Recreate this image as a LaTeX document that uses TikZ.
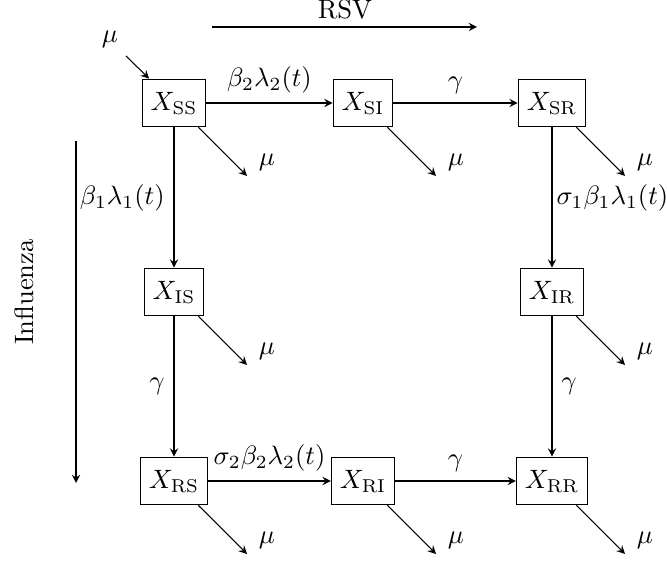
\documentclass[tikz,border=0pt]{standalone}
\usetikzlibrary{arrows}
\begin{document}
\begin{tikzpicture}[x=0.013228cm,y=-0.013228cm,
  box/.style={draw,inner xsep=3.2pt,inner ysep=4.8pt},
  flow/.style={-stealth},
  mulab/.style={xshift=7.5pt,yshift=5.3pt}]
\useasboundingbox (0,0) rectangle (667,563);
\node[box] (ss) at (174,103) {$X_{\mathrm{SS}}$};
\node[box] (si) at (363,103) {$X_{\mathrm{SI}}$};
\node[box] (sr) at (552,103) {$X_{\mathrm{SR}}$};
\node[box] (is) at (174,292) {$X_{\mathrm{IS}}$};
\node[box] (ir) at (552,292) {$X_{\mathrm{IR}}$};
\node[box] (rs) at (174,481) {$X_{\mathrm{RS}}$};
\node[box] (ri) at (363,481) {$X_{\mathrm{RI}}$};
\node[box] (rr) at (552,481) {$X_{\mathrm{RR}}$};
\draw[flow] (ss) -- node[above]{$\beta_2\lambda_2(t)$} (si);
\draw[flow] (si) -- node[above]{$\gamma$} (sr);
\draw[flow] (ss) -- node[left]{$\beta_1\lambda_1(t)$} (is);
\draw[flow] (is) -- node[left]{$\gamma$} (rs);
\draw[flow] (sr) -- node[right,inner sep=1.5pt]{$\sigma_1\beta_1\lambda_1(t)$} (ir);
\draw[flow] (ir) -- node[right]{$\gamma$} (rr);
\draw[flow] (rs) -- node[above]{$\sigma_2\beta_2\lambda_2(t)$} (ri);
\draw[flow] (ri) -- node[above]{$\gamma$} (rr);
\foreach \n in {ss,si,sr,is,ir,rs,ri,rr}{
  \draw[flow] (\n) -- ++(73,73) node[mulab] (\n-mu) {$\mu$};
}
\coordinate (muin) at (126,56);
\node (muinlab) at (110,39) {$\mu$};
\draw[flow] (muin) -- (ss);
\coordinate (rsvA) at (212,27);
\coordinate (rsvB) at (477,27);
\draw[flow] (rsvA) -- (rsvB);
\node[anchor=base] (rsvlab) at (345,19) {RSV};
\coordinate (infA) at (76,141);
\coordinate (infB) at (76,483);
\draw[flow] (infA) -- (infB);
\node[rotate=90] (inflab) at (24,292) {Influenza};
\end{tikzpicture}
\end{document}
